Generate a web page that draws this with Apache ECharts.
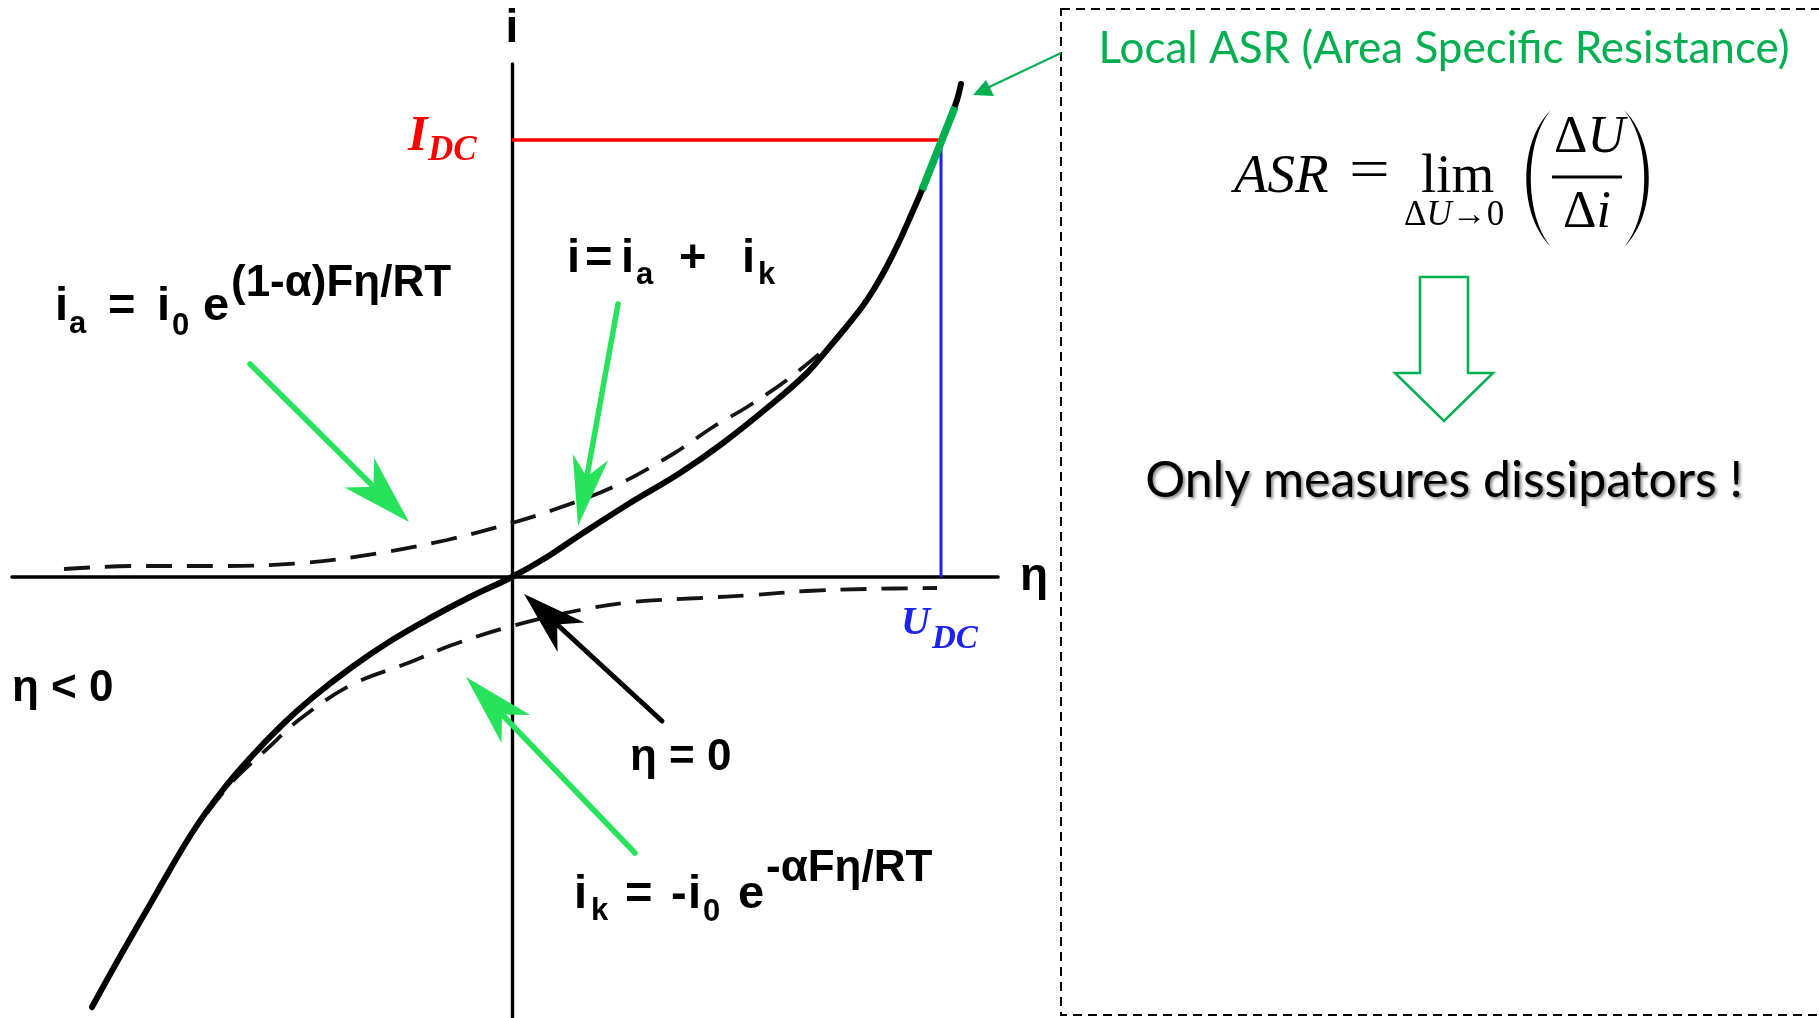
<!DOCTYPE html>
<html>
<head>
<meta charset="utf-8">
<script src="https://cdn.jsdelivr.net/npm/echarts@6/dist/echarts.min.js"></script>
<style>
  html, body { margin: 0; padding: 0; background: #fff; }
  #chart { width: 1819px; height: 1018px; }
</style>
</head>
<body>
<div id="chart"></div>
<script>
// Butler–Volmer polarisation curve: overpotential η (x) against current density i (y), arbitrary units.

// Total current i = i_a + i_k (solid curve)
const totalEta = [-4.20, -3.90, -3.60, -3.20, -2.90, -2.60, -2.30, -2.00, -1.60, -1.20, -0.80, -0.40, 0.00, 0.35, 0.68, 1.18, 1.68, 2.11, 2.61, 2.95, 3.15, 3.35, 3.50, 3.62, 3.74, 3.87, 4.00, 4.10, 4.20, 4.29, 4.38, 4.45, 4.49];
const totalI   = [-4.30, -3.76, -3.24, -2.56, -2.14, -1.79, -1.48, -1.21, -0.90, -0.63, -0.40, -0.19, 0.00, 0.20, 0.42, 0.74, 1.04, 1.34, 1.74, 2.04, 2.27, 2.51, 2.70, 2.88, 3.09, 3.35, 3.64, 3.87, 4.12, 4.36, 4.58, 4.77, 4.93];

// Anodic branch i_a (upper dashed curve)
const anodicEta = [-4.48, -3.77, -2.89, -2.08, -1.32, -0.65, 0.00, 0.41, 1.01, 1.61, 2.01, 2.35, 2.75, 3.13];
const anodicI   = [ 0.08,  0.11,  0.11,  0.14,  0.24,  0.37, 0.54, 0.67, 0.90, 1.23, 1.50, 1.70, 1.97, 2.28];

// Cathodic branch i_k (lower dashed curve)
const cathodicEta = [-3.05, -2.79, -2.45, -2.12, -1.61, -1.04, -0.60, 0.00, 0.68, 1.21, 1.88, 2.41, 2.95, 3.55, 4.25];
const cathodicI   = [-2.36, -2.04, -1.72, -1.42, -1.08, -0.86, -0.68, -0.49, -0.33, -0.25, -0.21, -0.18, -0.14, -0.12, -0.11];

// DC operating point and the local slope segment around it
const operatingU = 4.29;
const operatingI = 4.37;
const slopeEta = [4.10, 4.43];
const slopeI   = [3.87, 4.70];

const zip = (a, b) => a.map((v, k) => [v, b[k]]);

const SANS = '"Liberation Sans", Arial, sans-serif';
const SERIF = '"Liberation Serif", "Times New Roman", serif';
const CALI = 'Lato, "Open Sans", sans-serif';
const GREEN = '#00B050';
const BRIGHT = '#27E35B';

const chart = echarts.init(document.getElementById('chart'), null, { renderer: 'canvas' });

const axisName = { fontFamily: SANS, fontWeight: 'bold', fontSize: 46, color: '#000' };

chart.setOption({
  animation: false,
  backgroundColor: '#ffffff',
  grid: { left: 12, right: 821, top: 64, bottom: 0 },
  xAxis: {
    type: 'value', min: -5, max: 4.86,
    axisLine: { onZero: true, lineStyle: { color: '#000', width: 3.6 } },
    axisTick: { show: false }, axisLabel: { show: false }, splitLine: { show: false },
    name: 'η', nameLocation: 'end', nameGap: 22,
    nameTextStyle: Object.assign({ verticalAlign: 'middle' }, axisName)
  },
  yAxis: {
    type: 'value', min: -4.41, max: 5.13,
    axisLine: { onZero: true, lineStyle: { color: '#000', width: 3.4 } },
    axisTick: { show: false }, axisLabel: { show: false }, splitLine: { show: false },
    name: 'i', nameLocation: 'end', nameGap: 12,
    nameTextStyle: Object.assign({ verticalAlign: 'bottom', align: 'center' }, axisName)
  },
  series: [
    {
      name: 'i_k', type: 'line', silent: true, showSymbol: false, smooth: 0.35,
      data: zip(cathodicEta, cathodicI),
      lineStyle: { color: '#141414', width: 3.8, type: [26, 15] }, z: 3
    },
    {
      name: 'i_a', type: 'line', silent: true, showSymbol: false, smooth: 0.35,
      data: zip(anodicEta, anodicI),
      lineStyle: { color: '#141414', width: 3.8, type: [26, 15] }, z: 3
    },
    {
      name: 'i', type: 'line', silent: true, showSymbol: false, smooth: 0.4,
      data: zip(totalEta, totalI),
      lineStyle: { color: '#000', width: 6, cap: 'round' }, z: 4
    },
    {
      name: 'I_DC', type: 'line', silent: true, showSymbol: false,
      data: [[0, operatingI], [operatingU, operatingI]],
      lineStyle: { color: '#FF0000', width: 3.5 }, z: 5
    },
    {
      name: 'U_DC', type: 'line', silent: true, showSymbol: false,
      data: [[operatingU, operatingI], [operatingU, 0]],
      lineStyle: { color: '#1C22F2', width: 3 }, z: 5
    },
    {
      name: 'ASR', type: 'line', silent: true, showSymbol: false,
      data: zip(slopeEta, slopeI),
      lineStyle: { color: GREEN, width: 7.5 }, z: 6
    }
  ]
});

// ---- annotation helpers ----
const mctx = document.createElement('canvas').getContext('2d');
function fontStr(size, o) {
  return `${o.style || 'normal'} ${o.weight || 'normal'} ${size}px ${o.family || SANS}`;
}
function measure(text, size, o) { mctx.font = fontStr(size, o); return mctx.measureText(text).width; }

function txt(text, x, base, size, o = {}) {
  const st = {
    text, x, y: base - (o.mid != null ? o.mid : 0.31) * size,
    fontSize: size, fontFamily: o.family || SANS,
    fontWeight: o.weight || 'normal', fontStyle: o.style || 'normal',
    fill: o.color || '#000', align: o.align || 'left', verticalAlign: 'middle'
  };
  if (o.shadow) {
    st.textShadowColor = 'rgba(0,0,0,0.45)'; st.textShadowBlur = 3;
    st.textShadowOffsetX = 2; st.textShadowOffsetY = 2;
  }
  const el = { type: 'text', z: 60, silent: true, style: st };
  if (o.scaleX) { el.scaleX = o.scaleX; el.originX = x; el.originY = st.y; }
  return el;
}
// lay out pieces one after another from x
function chain(x, parts) {
  const out = []; let cx = x;
  parts.forEach(([t, base, size, o = {}]) => {
    out.push(txt(t, cx, base, size, o));
    cx += measure(t, size, o) + (o.gap || 0);
  });
  return out;
}
function arrow(x1, y1, x2, y2, color, w, L, hw, notch) {
  const dx = x2 - x1, dy = y2 - y1, len = Math.hypot(dx, dy);
  const ux = dx / len, uy = dy / len, px = -uy, py = ux;
  const bx = x2 - ux * L, by = y2 - uy * L;
  const nx = x2 - ux * (L - notch), ny = y2 - uy * (L - notch);
  return [
    { type: 'line', z: 55, silent: true, shape: { x1, y1, x2: nx, y2: ny },
      style: { stroke: color, lineWidth: w, lineCap: 'round' } },
    { type: 'polygon', z: 55, silent: true,
      shape: { points: [[x2, y2], [bx + px * hw, by + py * hw], [nx, ny], [bx - px * hw, by - py * hw]] },
      style: { fill: color } }
  ];
}
// a tall bracket drawn as a thin crescent between two cubic curves
function bracket(xEnd, yTop, yBot, cOuter, cInner) {
  const pts = [];
  const cub = (a, b, c, d, t) => (1 - t) ** 3 * a + 3 * (1 - t) ** 2 * t * b + 3 * (1 - t) * t * t * c + t ** 3 * d;
  const h = yBot - yTop;
  for (let k = 0; k <= 24; k++) {
    const t = k / 24;
    pts.push([cub(xEnd, cOuter, cOuter, xEnd, t), cub(yTop, yTop + h * 0.23, yTop + h * 0.77, yBot, t)]);
  }
  for (let k = 24; k >= 0; k--) {
    const t = k / 24;
    pts.push([cub(xEnd, cInner, cInner, xEnd, t), cub(yTop, yTop + h * 0.23, yTop + h * 0.77, yBot, t)]);
  }
  return { type: 'polygon', z: 60, silent: true, shape: { points: pts }, style: { fill: '#000' } };
}

const B = { weight: 'bold' };
const S = 47, SUB = 31, SUP = 44;
const els = [];

// i_a = i_0 e^((1-α)Fη/RT)
els.push(
  txt('i', 55, 322, S, B), txt('a', 69, 334, SUB, B), txt('=', 108, 322, S, B),
  txt('i', 157, 322, S, B), txt('0', 172, 336, SUB, B), txt('e', 203, 322, S, B),
  txt('(1-α)Fη/RT', 231, 297, SUP, B)
);
// i = i_a + i_k
els.push(
  txt('i', 567, 274, S, B), txt('=', 585, 274, S, B), txt('i', 621, 274, S, B),
  txt('a', 636, 285, SUB, B), txt('+', 679, 274, S, B), txt('i', 742, 274, S, B),
  txt('k', 758, 285, SUB, B)
);
// i_k = -i_0 e^(-αFη/RT)
els.push(
  txt('i', 574, 910, S, B), txt('k', 591, 921, SUB, B), txt('=', 625, 910, S, B),
  txt('-', 671, 910, S, B), txt('i', 688, 910, S, B), txt('0', 703, 922, SUB, B),
  txt('e', 738, 910, S, B), txt('-αFη/RT', 766, 882, SUP, B)
);
els.push(txt('η < 0', 12, 702, 44, B));
els.push(txt('η = 0', 630, 771, 44, B));

// pointer arrows
els.push(...arrow(250, 364, 409, 522, BRIGHT, 5.5, 70, 21, 20));
els.push(...arrow(618, 304, 578, 526, BRIGHT, 5.5, 70, 18, 20));
els.push(...arrow(635, 853, 466, 677, BRIGHT, 5.5, 72, 20, 20));
els.push(...arrow(662, 721, 524, 594, '#000', 5, 64, 20, 19));

// operating point labels, anchored to the data lines
const pDC = chart.convertToPixel({ gridIndex: 0 }, [operatingU, operatingI]);
const p0 = chart.convertToPixel({ gridIndex: 0 }, [0, 0]);
const SI = { family: SERIF, weight: 'bold', style: 'italic' };
els.push(
  txt('I', p0[0] - 104, pDC[1] + 13, 50, Object.assign({ color: '#FF0000' }, SI)),
  txt('DC', p0[0] - 84, pDC[1] + 22, 35, Object.assign({ color: '#FF0000' }, SI)),
  txt('U', pDC[0] - 40, p0[1] + 59, 40, Object.assign({ color: '#1C22F2' }, SI)),
  txt('DC', pDC[0] - 9, p0[1] + 73, 33, Object.assign({ color: '#1C22F2' }, SI))
);

// right-hand panel
els.push({ type: 'rect', z: 40, silent: true, shape: { x: 1061, y: 9, width: 820, height: 1006 },
  style: { fill: 'none', stroke: '#000', lineWidth: 2, lineDash: [9, 6] } });
els.push({ type: 'line', z: 40, silent: true, shape: { x1: 1061, y1: 53, x2: 985, y2: 89 },
  style: { stroke: GREEN, lineWidth: 2 } });
els.push({ type: 'polygon', z: 40, silent: true,
  shape: { points: [[973, 95], [986, 80], [994, 96]] }, style: { fill: GREEN } });

els.push(txt('Local ASR (Area Specific Resistance)', 1444, 62, 44, { family: CALI, color: GREEN, align: 'center' }));

const FI = { family: SERIF, style: 'italic' };
const FR = { family: SERIF };
els.push(txt('ASR', 1234, 195, 55, FI));
els.push(txt('=', 1349, 191, 58, Object.assign({ scaleX: 1.25 }, FR)));
els.push(txt('lim', 1421, 195, 55, FR));
els.push(...chain(1404, [['Δ', 227, 35, FR], ['U', 227, 35, FI], ['→', 227, 35, FR], ['0', 227, 35, FR]]));
els.push(...chain(1554, [['Δ', 154, 52, FR], ['U', 154, 52, FI]]));
els.push({ type: 'line', z: 60, silent: true, shape: { x1: 1552, y1: 177, x2: 1622, y2: 177 },
  style: { stroke: '#000', lineWidth: 3 } });
els.push(...chain(1563, [['Δ', 229, 52, FR], ['i', 229, 52, FI]]));
els.push(bracket(1551, 110, 247, 1518, 1524));
els.push(bracket(1624, 110, 247, 1657, 1651));

els.push({ type: 'polygon', z: 60, silent: true,
  shape: { points: [[1420, 277], [1468, 277], [1468, 373], [1493, 373], [1444, 421], [1395, 373], [1420, 373]] },
  style: { fill: '#fff', stroke: GREEN, lineWidth: 2.5, lineJoin: 'miter' } });

els.push(txt('Only measures dissipators !', 1444, 496, 50, { family: CALI, align: 'center', shadow: true }));

chart.setOption({ graphic: { elements: els } });
</script>
</body>
</html>
